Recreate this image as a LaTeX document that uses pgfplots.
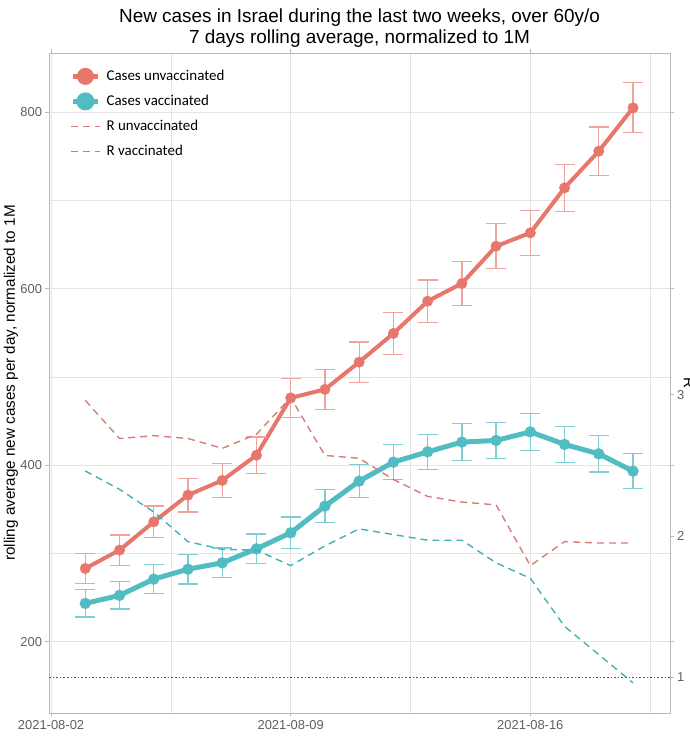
\documentclass[border=0pt]{standalone}
\usepackage{pgfplots}
\pgfplotsset{compat=1.18}
\usepackage{pgfplotstable}
\usepackage{fontspec}
\setmainfont{Liberation Sans}
\newfontfamily\carlito{Carlito}
\definecolor{cred}{RGB}{231,119,108}
\definecolor{credlight}{RGB}{238,163,157}
\definecolor{cteal}{RGB}{82,188,195}
\definecolor{cteallight}{RGB}{128,206,211}
\definecolor{credR}{RGB}{214,125,118}
\definecolor{ctealR}{RGB}{64,178,184}
\definecolor{gridc}{RGB}{228,228,228}
\definecolor{framec}{RGB}{185,185,185}
\definecolor{tickc}{RGB}{95,95,95}
\definecolor{hlinec}{RGB}{80,80,80}

\pgfplotstableread{
day y e
3 283.2 16.7
4 304.0 17.2
5 336.0 17.8
6 366.3 19.1
7 382.9 19.3
8 411.5 20.6
9 476.4 21.9
10 486.0 22.7
11 516.9 22.7
12 549.4 23.8
13 585.9 24.0
14 606.0 25.1
15 648.2 25.3
16 663.3 25.5
17 714.3 26.5
18 755.8 27.4
19 804.9 28.3
}\unvacc

\pgfplotstableread{
day y e
3 243.6 15.5
4 252.7 15.5
5 271.1 16.4
6 282.4 16.8
7 289.6 16.8
8 305.4 16.8
9 323.6 17.9
10 353.8 18.5
11 382.1 18.9
12 403.6 20.0
13 415.3 20.0
14 426.3 20.7
15 428.2 20.4
16 437.9 20.8
17 423.7 20.4
18 413.0 20.4
19 393.4 20.0
}\vacc

\pgfplotstableread{
day ru rv
3 2.96 2.46
4 2.69 2.33
5 2.71 2.17
6 2.69 1.96
7 2.62 1.905
8 2.72 1.90
9 2.98 1.79
10 2.57 1.93
11 2.55 2.05
12 2.40 2.01
13 2.28 1.97
14 2.24 1.97
15 2.22 1.81
16 1.79 1.70
17 1.96 1.36
18 1.95 1.16
19 1.95 0.96
}\rtab

\begin{document}
\begin{tikzpicture}
\begin{axis}[
  scale only axis, width=621bp, height=660bp,
  xmin=1.94, xmax=20.08, ymin=119.5, ymax=867,
  xtick={2,9,16}, xticklabels={2021-08-02,2021-08-09,2021-08-16},
  minor xtick={5.5,12.5,19.5},
  ytick={200,400,600,800}, minor ytick={300,500,700},
  grid=both,
  major grid style={gridc, line width=0.9bp},
  minor grid style={gridc, line width=0.6bp},
  axis line style={framec, line width=0.9bp},
  tick align=outside, major tick length=3.5bp, minor tick length=0pt,
  tick style={framec, line width=0.9bp},
  ticklabel style={font=\fontsize{13}{15}\selectfont, text=tickc},
  /pgf/number format/assume math mode=true,
  ylabel={rolling average new cases per day, normalized to 1M},
  ylabel style={at={(axis description cs:-0.0612,0.5)}, anchor=center, font=\fontsize{15.3}{17}\selectfont},
  title={New cases in Israel during the last two weeks, over 60y/o\\7 days rolling average, normalized to 1M},
  title style={at={(axis description cs:0.5,1)}, anchor=south, yshift=-1bp, inner sep=0pt, align=center, font=\fontsize{19}{21.5}\selectfont},
  legend cell align=left,
  legend style={at={(axis description cs:0.0338,0.9785)}, anchor=north west, draw=none, fill=none,
    font=\carlito\fontsize{15}{17}\selectfont, row sep=7bp, column sep=6bp, inner sep=0pt,
    nodes={inner sep=0pt, text height=13bp, text depth=5bp}},
]
\addplot[cred, line width=4bp, mark=*, mark size=5.3bp, mark options={solid, line width=0.3bp},
  legend image code/.code={\draw[line width=5bp] (0bp,0bp) -- (25bp,0bp); \fill (12.5bp,0bp) circle (6.5bp);},
  error bars/.cd, y dir=both, y explicit,
  error bar style={credlight, line width=1.3bp},
  error mark options={credlight, rotate=90, mark size=10bp, line width=1.3bp}]
  table[x=day, y=y, y error=e]{\unvacc};
\addlegendentry{Cases unvaccinated}
\addplot[cteal, line width=5bp, mark=*, mark size=5.5bp, mark options={solid, line width=0.3bp},
  legend image code/.code={\draw[line width=5bp] (0bp,0bp) -- (25bp,0bp); \fill (12.5bp,0bp) circle (6.5bp);},
  error bars/.cd, y dir=both, y explicit,
  error bar style={cteallight, line width=1.3bp},
  error mark options={cteallight, rotate=90, mark size=10bp, line width=1.3bp}]
  table[x=day, y=y, y error=e]{\vacc};
\addlegendentry{Cases vaccinated}
\addlegendimage{credR, line width=1.4bp, dash pattern=on 7bp off 5bp,
  legend image code/.code={\draw (-2bp,0bp) -- (27bp,0bp);}}
\addlegendentry{R unvaccinated}
\addlegendimage{ctealR, line width=1.4bp, dash pattern=on 7bp off 5bp,
  legend image code/.code={\draw (-2bp,0bp) -- (27bp,0bp);}}
\addlegendentry{R vaccinated}
\end{axis}
\begin{axis}[
  scale only axis, width=621bp, height=660bp,
  xmin=1.94, xmax=20.08, ymin=0.746875, ymax=5.41875,
  axis x line=none, axis y line*=right,
  ytick={1,2,3},
  axis line style={framec, line width=0.9bp},
  tick align=outside, major tick length=3.5bp,
  tick style={framec, line width=0.9bp},
  ticklabel style={font=\fontsize{13}{15}\selectfont, text=tickc},
  /pgf/number format/assume math mode=true,
  ylabel={R},
  ylabel style={at={(axis description cs:1.0306,0.5)}, anchor=center, rotate=-180, font=\fontsize{15.3}{17}\selectfont},
]
\addplot[hlinec, line width=1bp, dash pattern=on 1.6bp off 2bp] coordinates {(1.94,1) (20.08,1)};
\addplot[credR, line width=1.4bp, dash pattern=on 7bp off 5bp] table[x=day, y=ru]{\rtab};
\addplot[ctealR, line width=1.4bp, dash pattern=on 7bp off 5bp] table[x=day, y=rv]{\rtab};
\end{axis}
\pgfresetboundingbox
\path[use as bounding box] (-49bp,-24bp) rectangle (641bp,713bp);
\end{tikzpicture}
\end{document}
